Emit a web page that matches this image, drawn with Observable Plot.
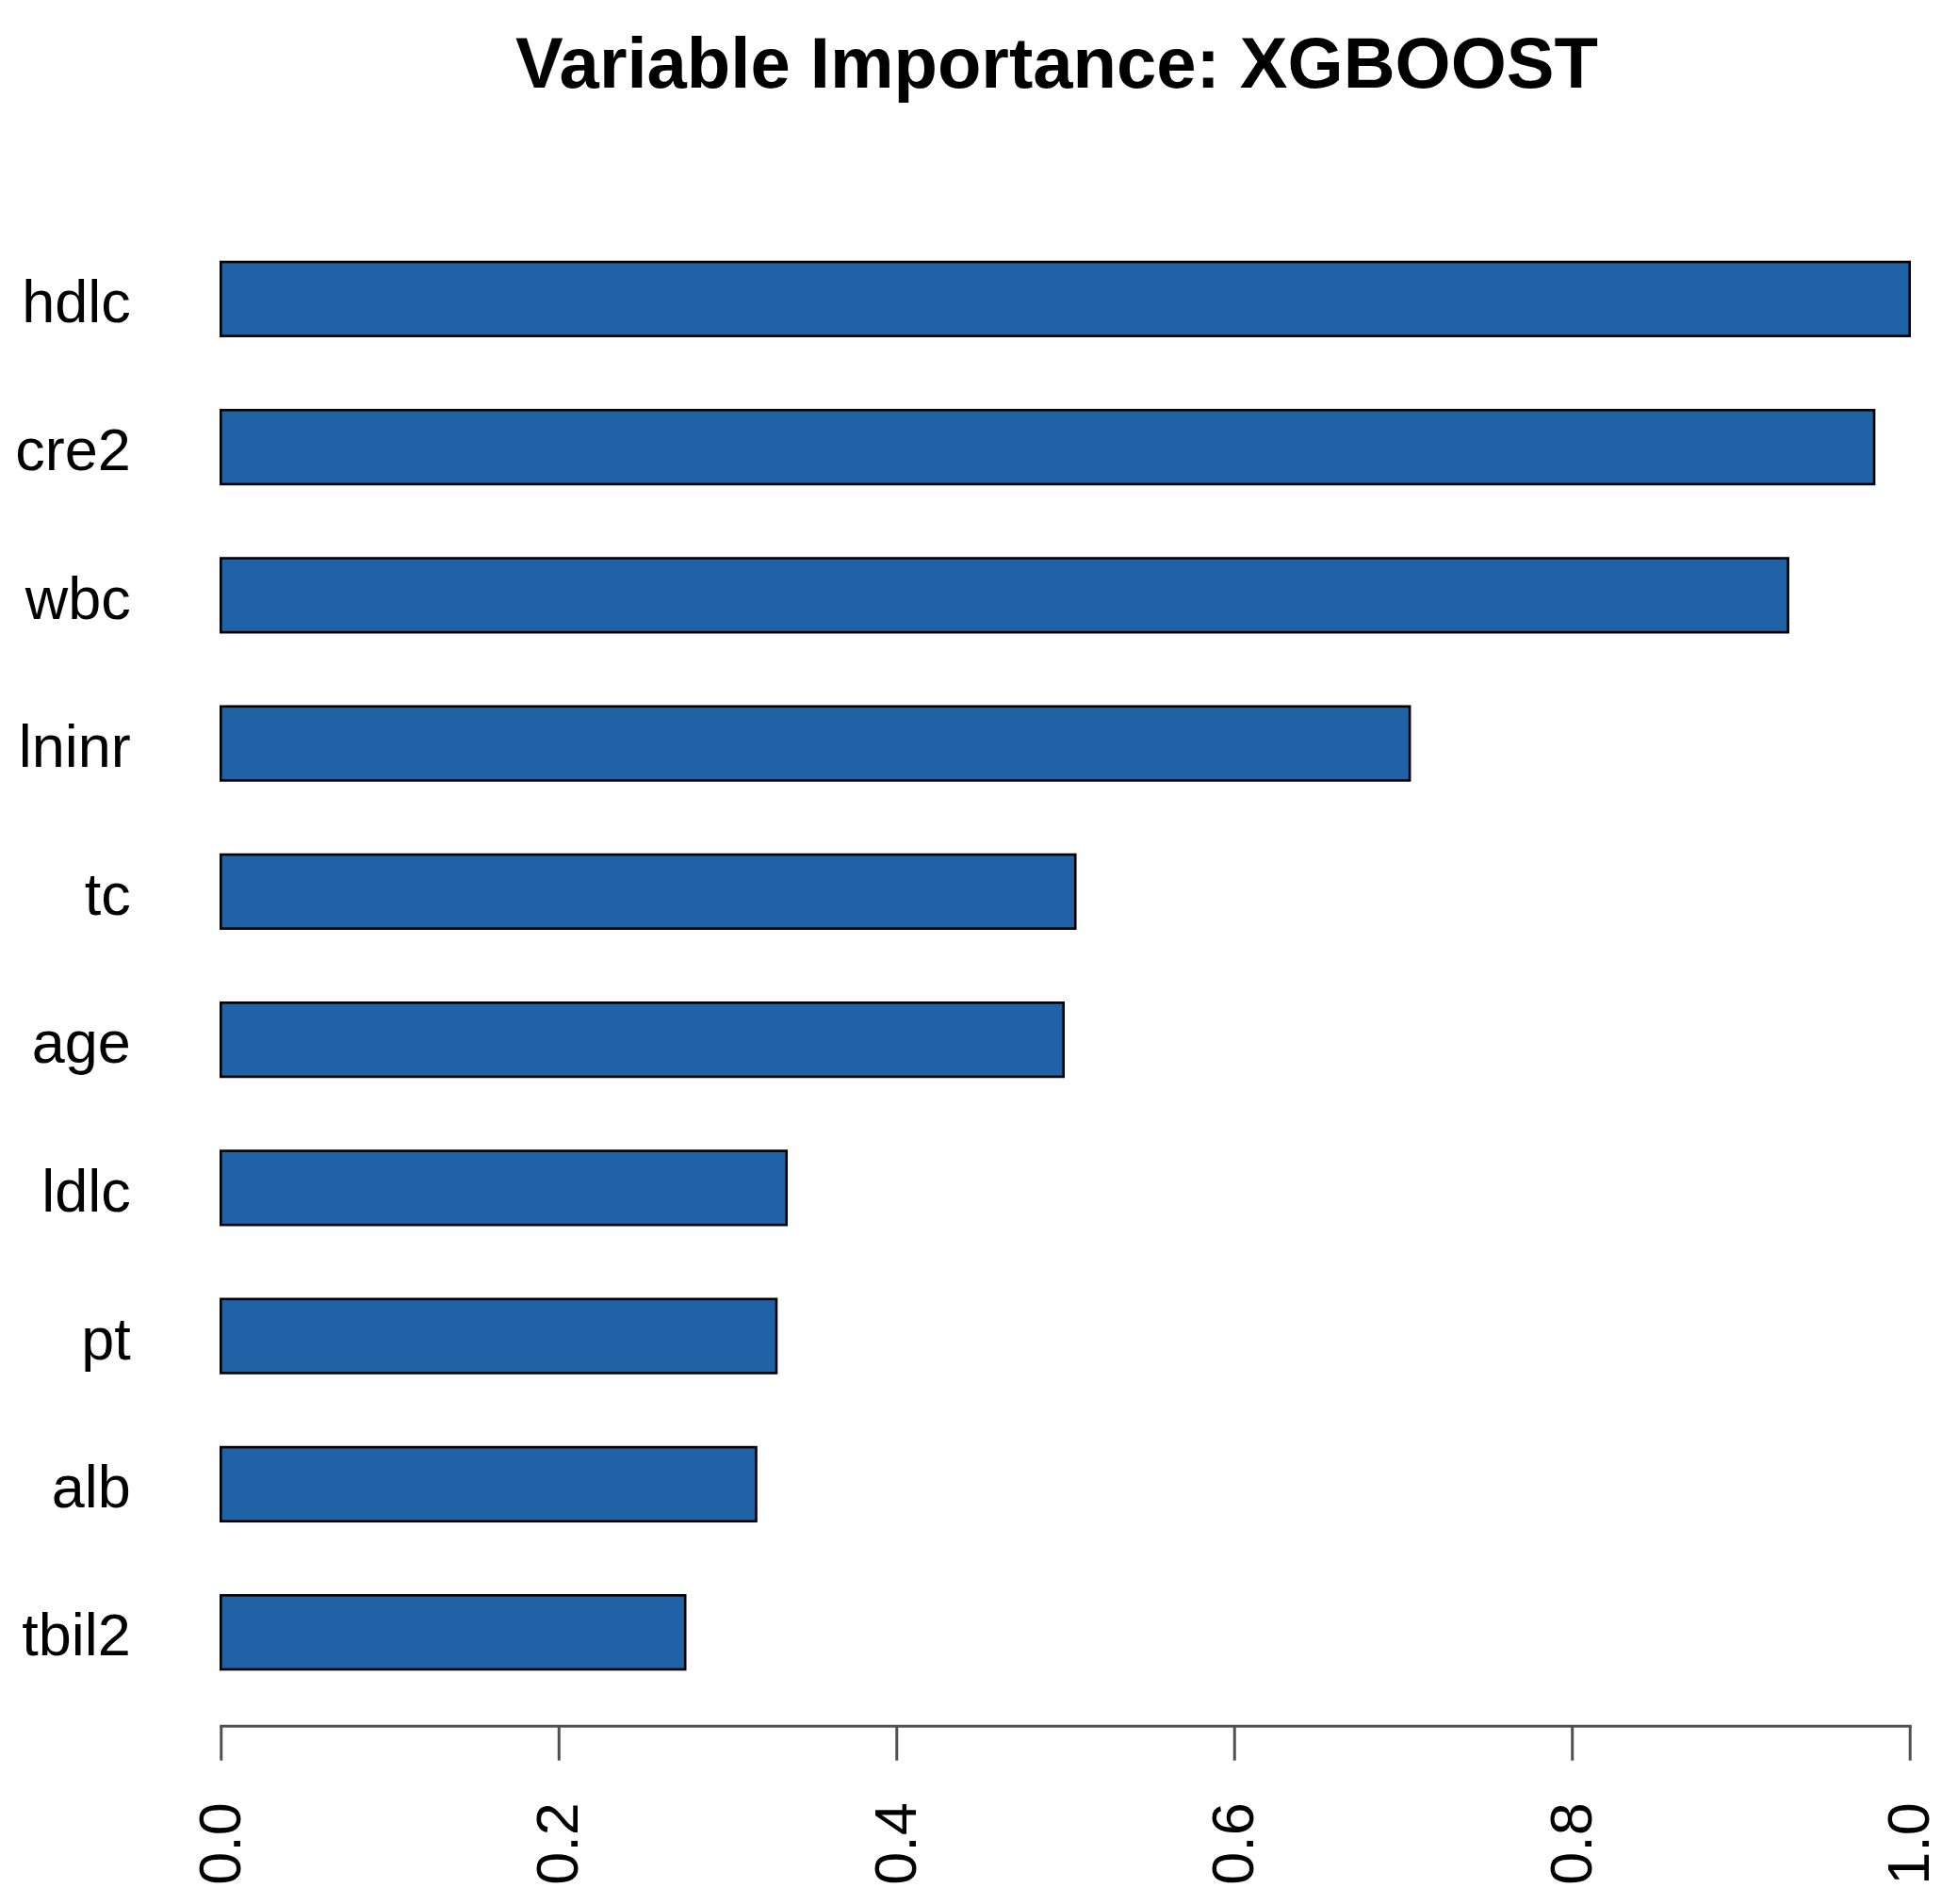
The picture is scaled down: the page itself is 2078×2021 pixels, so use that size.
<!DOCTYPE html>
<html>
<head>
<meta charset="utf-8">
<script src="https://cdn.jsdelivr.net/npm/d3@7"></script>
<script src="https://cdn.jsdelivr.net/npm/@observablehq/plot@0.6"></script>
<style>
  html, body { margin: 0; padding: 0; background: #ffffff; }
  #wrap { position: relative; width: 2078px; height: 2021px; overflow: hidden; background: #fff; }
  #title {
    position: absolute; left: 1121.5px; top: 28.7px; transform: translateX(-50%);
    font-family: "Liberation Sans", Arial, sans-serif; font-weight: bold;
    font-size: 76px; line-height: 76px; white-space: nowrap; color: #000;
  }
  #chart { position: absolute; left: 0; top: 130px; }
</style>
</head>
<body>
<div id="wrap">
  <div id="title">Variable Importance: XGBOOST</div>
  <div id="chart"></div>
</div>
<script>
const variables = ["hdlc", "cre2", "wbc", "lninr", "tc", "age", "ldlc", "pt", "alb", "tbil2"];
const importance = [1.0, 0.979, 0.928, 0.704, 0.506, 0.499, 0.335, 0.329, 0.317, 0.275];
const xTicks = [0, 0.2, 0.4, 0.6, 0.8, 1.0];

const data = variables.map((v, i) => ({variable: v, importance: importance[i]}));

const W = 2078, H = 2021 - 130;
const plot = Plot.plot({
  width: W,
  height: H,
  marginLeft: 234.3,
  marginRight: 51.3,
  marginTop: 100,
  marginBottom: H - 1701.7,
  style: {fontFamily: "'Liberation Sans', Arial, sans-serif", background: "#fff", color: "#000"},
  x: {domain: [0, 1], label: null},
  y: {domain: variables, range: [108.7, 1681.3], paddingInner: 0.5, paddingOuter: 0.25, round: false, label: null},
  marks: [
    Plot.barX(data, {x: "importance", y: "variable", fill: "#1f62a5", stroke: "#000", strokeWidth: 2.6}),
    Plot.frame({anchor: "bottom", stroke: "#505050", strokeWidth: 3}),
    Plot.axisX({ticks: xTicks, tickFormat: d3.format(".1f"), tickRotate: -90, tickSize: 37, tickPadding: 44,
                stroke: "#505050", strokeWidth: 3, fill: "#000", fontSize: 63, label: null}),
    Plot.axisY({tickSize: 0, tickPadding: 96, fontSize: 63, fill: "#000", dy: 4, label: null})
  ]
});
document.getElementById("chart").appendChild(plot);
</script>
</body>
</html>
